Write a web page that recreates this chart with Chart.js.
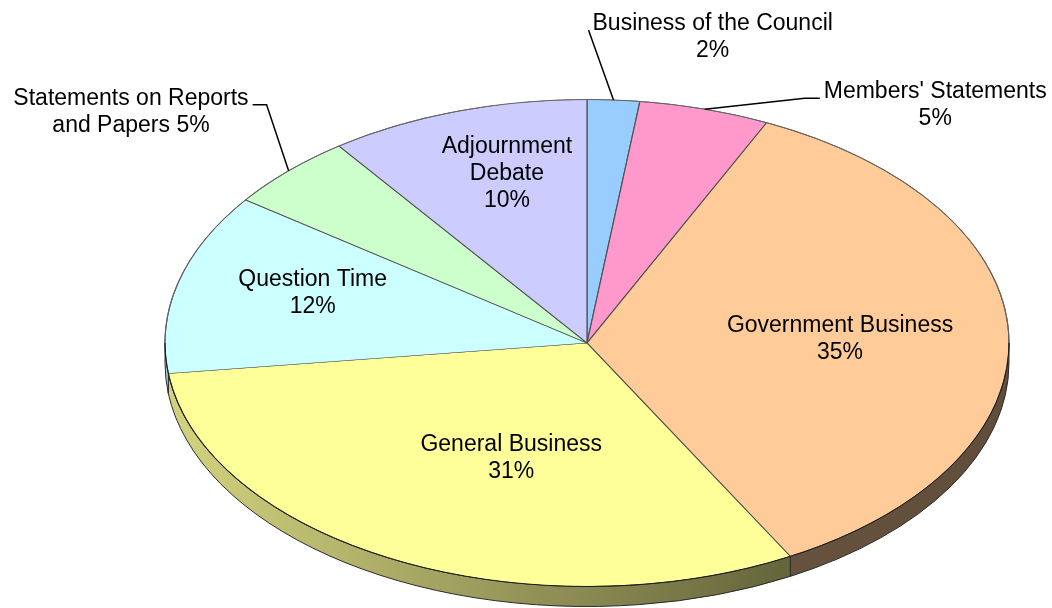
<!DOCTYPE html>
<html>
<head>
<meta charset="utf-8">
<script src="https://cdn.jsdelivr.net/npm/chart.js@4.4.1/dist/chart.umd.min.js"></script>
<style>
  html, body { margin: 0; padding: 0; background: #fff; }
  #wrap { width: 1052px; height: 608px; }
</style>
</head>
<body>
<div id="wrap"><canvas id="pie" width="1052" height="608"></canvas></div>
<script>
var categories = ['Business of the Council', "Members' Statements", 'Government Business',
  'General Business', 'Question Time', 'Statements on Reports and Papers', 'Adjournment Debate'];
var shares = [2, 5, 35, 31, 12, 5, 10];
var sliceColors = ['#99CCFF', '#FF99CC', '#FFCC99', '#FFFF99', '#CCFFFF', '#CCFFCC', '#CCCCFF'];

// how each category name is broken over lines in its label
var nameLines = [
  ['Business of the Council'],
  ["Members' Statements"],
  ['Government Business'],
  ['General Business'],
  ['Question Time'],
  ['Statements on Reports', 'and Papers'],
  ['Adjournment', 'Debate']
];
var pctOnSameLine = [false, false, false, false, false, true, false];

// 3d look
var TILT = 0.577;     // vertical squash of the pie face
var DEPTH = 20;       // thickness of the side wall
var RADIUS = 422;

// labels inside the face: fraction of the edge distance, small turn in degrees
var insideLabels = {
  2: { f: 0.60, turn: 1 },
  3: { f: 0.50, turn: 12.6 },
  4: { f: 0.684, turn: 1.4 },
  6: { f: 0.728, turn: 0.7 }
};
// labels outside with a leader: elbow offset from the edge, then a horizontal tail
var outsideLabels = {
  0: { dx: -25, dy: -70, tail: 0, side: 1 },
  1: { dx: 100, dy: -11, tail: 15, side: 1 },
  5: { dx: -22, dy: -66, tail: -14, side: -1 }
};

var FONT = '23px "Liberation Sans", Arial, sans-serif';
var LINE_H = 27;
var CAP_H = 16.5;

function shade(hex, k) {
  var n = parseInt(hex.slice(1), 16);
  var r = Math.round(((n >> 16) & 255) * k);
  var g = Math.round(((n >> 8) & 255) * k);
  var b = Math.round((n & 255) * k);
  return 'rgb(' + r + ',' + g + ',' + b + ')';
}

function wallFill(ctx, color, cx, rx) {
  var grad = ctx.createLinearGradient(cx - rx, 0, cx + rx, 0);
  grad.addColorStop(0, shade(color, 0.83));
  grad.addColorStop(0.73, shade(color, 0.40));
  grad.addColorStop(1, shade(color, 0.38));
  return grad;
}

function labelText(i) {
  var lines = nameLines[i].slice();
  var pct = shares[i] + '%';
  if (pctOnSameLine[i]) lines[lines.length - 1] += ' ' + pct;
  else lines.push(pct);
  return lines;
}

function drawBlock(ctx, lines, left, firstBaseline) {
  var w = 0;
  lines.forEach(function (s) { w = Math.max(w, ctx.measureText(s).width); });
  ctx.textAlign = 'center';
  lines.forEach(function (s, k) {
    ctx.fillText(s, left + w / 2, firstBaseline + k * LINE_H);
  });
  return w;
}

var tiltPlugin = {
  id: 'tilt',
  beforeDatasetsDraw: function (chart) {
    var ctx = chart.ctx;
    var arcs = chart.getDatasetMeta(0).data;
    var cx = arcs[0].x, cy = arcs[0].y, rx = arcs[0].outerRadius, ry = rx * TILT;

    // side wall for the front half
    arcs.forEach(function (arc, i) {
      var a1 = Math.max(arc.startAngle, 0);
      var a2 = Math.min(arc.endAngle, Math.PI);
      if (a2 <= a1) return;
      ctx.beginPath();
      ctx.ellipse(cx, cy, rx, ry, 0, a1, a2);
      ctx.ellipse(cx, cy + DEPTH, rx, ry, 0, a2, a1, true);
      ctx.closePath();
      ctx.fillStyle = wallFill(ctx, sliceColors[i], cx, rx);
      ctx.fill();
      ctx.strokeStyle = '#2a2a2a';
      ctx.lineWidth = 1;
      ctx.stroke();
    });

    ctx.save();
    ctx.translate(cx, cy);
    ctx.scale(1, TILT);
    ctx.translate(-cx, -cy);
  },
  afterDatasetsDraw: function (chart) {
    var ctx = chart.ctx;
    ctx.restore();
    var arc = chart.getDatasetMeta(0).data[0];
    var cx = arc.x, cy = arc.y, rx = arc.outerRadius, ry = rx * TILT;
    ctx.lineWidth = 1;
    ctx.beginPath();
    ctx.ellipse(cx, cy, rx, ry, 0, Math.PI, 2 * Math.PI);
    ctx.strokeStyle = '#666';
    ctx.stroke();
    ctx.beginPath();
    ctx.ellipse(cx, cy, rx, ry, 0, 0, Math.PI);
    ctx.strokeStyle = '#1a1a1a';
    ctx.stroke();
  },
  afterDraw: function (chart) {
    var ctx = chart.ctx;
    var arcs = chart.getDatasetMeta(0).data;
    var cx = arcs[0].x, cy = arcs[0].y, rx = arcs[0].outerRadius, ry = rx * TILT;
    ctx.save();
    ctx.font = FONT;
    ctx.fillStyle = '#000';
    ctx.textBaseline = 'alphabetic';

    arcs.forEach(function (arc, i) {
      var lines = labelText(i);
      var s = arc.startAngle, e = arc.endAngle;

      if (insideLabels[i]) {
        // mid angle as seen on the squashed face
        var ts = Math.atan2(ry * Math.sin(s), rx * Math.cos(s));
        var te = Math.atan2(ry * Math.sin(e), rx * Math.cos(e));
        while (te <= ts) te += 2 * Math.PI;
        var th = (ts + te) / 2 + insideLabels[i].turn * Math.PI / 180;
        var t = Math.atan2(rx * Math.sin(th), ry * Math.cos(th));
        var f = insideLabels[i].f;
        var px = cx + f * rx * Math.cos(t);
        var py = cy + f * ry * Math.sin(t);
        var first = py - ((lines.length - 1) * LINE_H - CAP_H) / 2;
        ctx.textAlign = 'center';
        lines.forEach(function (str, k) {
          ctx.fillText(str, px, first + k * LINE_H);
        });
      } else if (outsideLabels[i]) {
        var o = outsideLabels[i];
        var m = (s + e) / 2;
        var ax = cx + rx * Math.cos(m), ay = cy + ry * Math.sin(m);
        var bx = ax + o.dx, by = ay + o.dy;
        var ex = bx + o.tail, ey = by;
        ctx.beginPath();
        ctx.moveTo(ax, ay);
        ctx.lineTo(bx, by);
        if (o.tail) ctx.lineTo(ex, ey);
        ctx.strokeStyle = '#000';
        ctx.lineWidth = 1.5;
        ctx.stroke();
        var w = 0;
        lines.forEach(function (str) { w = Math.max(w, ctx.measureText(str).width); });
        var left = o.side > 0 ? ex + 4 : ex - 4 - w;
        drawBlock(ctx, lines, left, ey);
      }
    });
    ctx.restore();
  }
};

new Chart(document.getElementById('pie').getContext('2d'), {
  type: 'pie',
  data: {
    labels: categories,
    datasets: [{
      data: shares,
      backgroundColor: sliceColors,
      borderColor: '#505050',
      borderWidth: 1.2,
      clip: false
    }]
  },
  options: {
    responsive: false,
    animation: false,
    radius: RADIUS,
    layout: { padding: { left: 122, top: 78 } },
    plugins: {
      legend: { display: false },
      tooltip: { enabled: false }
    }
  },
  plugins: [tiltPlugin]
});
</script>
</body>
</html>
